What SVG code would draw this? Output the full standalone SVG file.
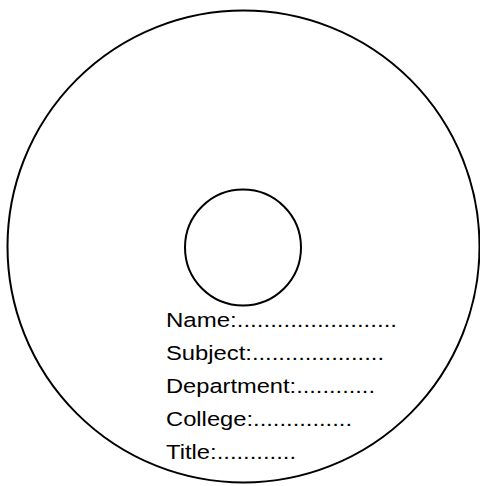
<svg xmlns="http://www.w3.org/2000/svg" width="480" height="486" viewBox="0 0 480 486">
<style>
.disc{fill:none;stroke:#000;stroke-width:2}
.lbl{font-family:"Liberation Sans",Arial,sans-serif;font-size:20.5px;fill:#000}
</style>
<rect width="480" height="486" fill="#fff"/>
<g id="outer"><circle class="disc" cx="243.5" cy="246.5" r="236"/></g>
<g id="hole"><circle class="disc" cx="243" cy="247.5" r="58"/></g>
<g id="labels">
<text class="lbl" x="166" y="327" textLength="231" lengthAdjust="spacingAndGlyphs">Name:........................</text>
<text class="lbl" x="166" y="360" textLength="218" lengthAdjust="spacingAndGlyphs">Subject:....................</text>
<text class="lbl" x="166" y="393" textLength="209" lengthAdjust="spacingAndGlyphs">Department:............</text>
<text class="lbl" x="166" y="426" textLength="186" lengthAdjust="spacingAndGlyphs">College:...............</text>
<text class="lbl" x="166" y="459" textLength="130" lengthAdjust="spacingAndGlyphs">Title:............</text>
</g>
</svg>
